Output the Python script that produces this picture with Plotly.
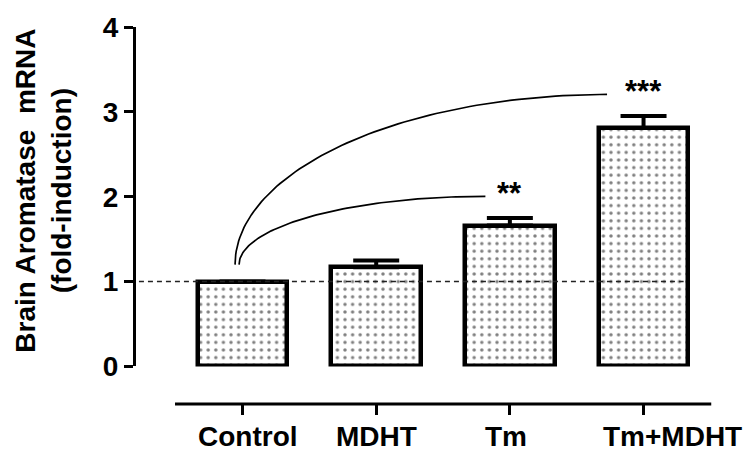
import numpy as np
import plotly.graph_objects as go

categories = ["Control", "MDHT", "Tm", "Tm+MDHT"]
means = [1.0, 1.17, 1.66, 2.81]
errors = [0.0, 0.08, 0.09, 0.14]
sig_labels = ["", "", "**", "***"]
y_ticks = [0, 1, 2, 3, 4]
reference_level = 1.0

FONT = "Liberation Sans, Arial, sans-serif"
x_pos = list(range(len(categories)))
label_xshift = [5, 0, -4, 29]   # px, as placed in the original figure

fig = go.Figure()
fig.add_trace(go.Bar(
    x=x_pos, y=means, width=0.67,
    marker=dict(color="white", line=dict(color="black", width=4.5),
                pattern=dict(shape=".", size=7.6, solidity=0.16,
                             fgcolor="black", bgcolor="white")),
    error_y=dict(type="data", array=errors, arrayminus=[0] * len(errors),
                 symmetric=False, thickness=4, width=23, color="black"),
    showlegend=False, hoverinfo="skip",
))

# significance curves from Control to the significant groups
start_offsets = {2: -0.026, 3: -0.056}
end_offsets = {2: -0.183, 3: -0.273}
for i, lab in enumerate(sig_labels):
    if not lab:
        continue
    xs = x_pos[0] + start_offsets[i]
    ys = means[0] + 0.2
    xe = x_pos[i] + end_offsets[i]
    ye = means[i] + errors[i] + 0.255
    t = np.linspace(0, np.pi / 2, 80)
    cx = xe - (xe - xs) * np.cos(t)
    cy = ys + (ye - ys) * np.sin(t)
    fig.add_trace(go.Scatter(x=cx, y=cy, mode="lines",
                             line=dict(color="black", width=1.7),
                             showlegend=False, hoverinfo="skip"))
    fig.add_annotation(x=x_pos[i], y=ye, text=f"<b>{lab}</b>", showarrow=False,
                       xanchor="center", yanchor="middle", yshift=3,
                       font=dict(family=FONT, size=31, color="black"))

# dashed reference line
fig.add_shape(type="line", xref="x", yref="y", x0=-0.775, x1=x_pos[-1] + 0.3,
              y0=reference_level, y1=reference_level,
              line=dict(color="#222222", width=1.5, dash="5px,4px"), layer="above")

# separate x-axis baseline
fig.add_shape(type="line", xref="paper", yref="paper", x0=0.0668, x1=0.985,
              y0=0, y1=0, line=dict(color="black", width=3))

# category labels
for i, c in enumerate(categories):
    fig.add_annotation(x=x_pos[i], xref="x", y=0, yref="paper", text=f"<b>{c}</b>",
                       showarrow=False, xanchor="center", yanchor="top",
                       xshift=label_xshift[i], yshift=-15,
                       font=dict(family=FONT, size=28, color="black"))

fig.add_annotation(xref="paper", yref="paper", x=-0.158, y=0.565,
                   text="<b>Brain Aromatase\u00a0 mRNA<br>(fold-induction)</b>",
                   textangle=-90, showarrow=False, xanchor="center", yanchor="middle",
                   font=dict(family=FONT, size=28, color="black"))

fig.update_layout(
    width=744, height=454,
    margin=dict(l=136, r=24, t=22, b=50),
    paper_bgcolor="white", plot_bgcolor="white",
    font=dict(family=FONT, color="black"),
    bargap=0,
    xaxis=dict(range=[-0.797, 3.572], tickvals=x_pos, showticklabels=False,
               ticks="outside", ticklen=10, tickwidth=3, tickcolor="black",
               showline=False, showgrid=False, zeroline=False,
               anchor="free", position=0),
    yaxis=dict(range=[0, 4], domain=[0.0995, 1], tickvals=y_ticks,
               ticktext=[f"<b>{v}</b>" for v in y_ticks],
               ticks="outside", ticklen=9, tickwidth=3, tickcolor="black",
               showline=True, linewidth=3, linecolor="black",
               showgrid=False, zeroline=False,
               tickfont=dict(family=FONT, size=28, color="black")),
)

fig.write_html("out.html")
